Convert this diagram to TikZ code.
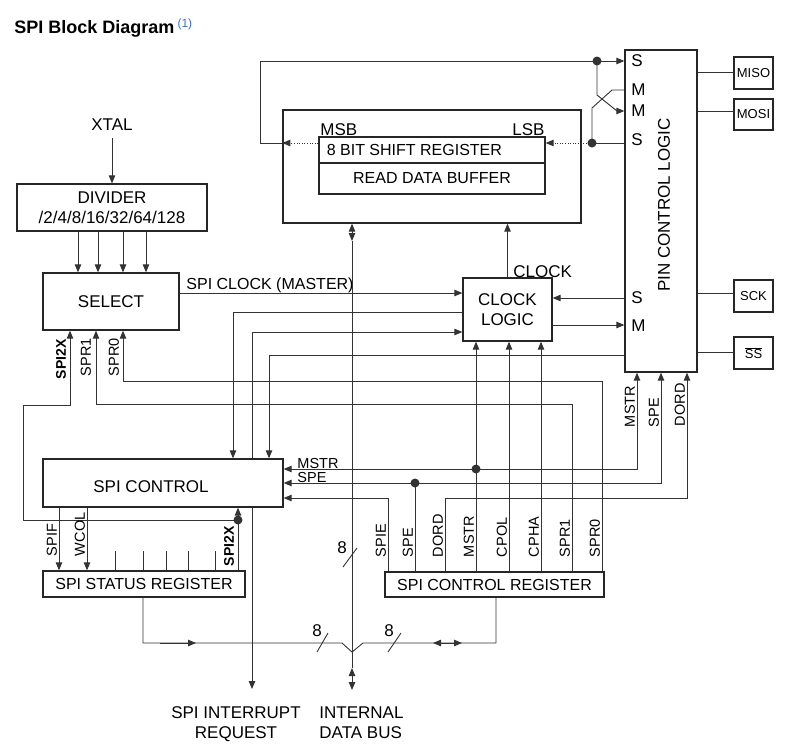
\documentclass[tikz,border=0pt]{standalone}
\usepackage{fontspec}
\setmainfont{Liberation Sans}
\usetikzlibrary{arrows.meta, positioning}
\definecolor{linkblue}{HTML}{3D6FD0}
\definecolor{wire}{HTML}{333333}

\tikzset{
  box/.style={draw=black!85, line width=1.3pt, inner sep=0pt},
  sig/.style={rotate=90, anchor=south west, inner sep=0.5pt, font=\fontsize{14.5}{15}\selectfont},
  bsig/.style={sig, font=\bfseries\fontsize{14}{15}\selectfont},
  pinlbl/.style={anchor=west, inner sep=0pt},
  dot/.style={circle, fill=wire, inner sep=0pt, minimum size=9pt},
  dots/.style={dash pattern=on 1pt off 1.6pt},
  dbl/.style={<->},
}

\begin{document}
\begin{tikzpicture}[x=1pt, y=-1pt, >={Triangle[length=8pt,width=6.5pt]}, line width=0.9pt, draw=wire,
    every node/.style={font=\fontsize{17}{20}\selectfont}]
    \useasboundingbox (0,0) rectangle (791,748);

    % title
    \node[anchor=base west, inner sep=0pt, font=\bfseries\fontsize{18}{20}\selectfont] (title) at (14,33)
        {SPI Block Diagram\hspace{3pt}\raisebox{6pt}{\mdseries\fontsize{12}{12}\selectfont\color{linkblue}(1)}};

    % blocks
    \node[box, minimum width=72, minimum height=322] (pin) at (661,211) {};
    \node[rotate=90] (pintxt) at (664,205) {PIN CONTROL LOGIC};
    \node[box, minimum width=39, minimum height=32, font=\fontsize{13}{14}\selectfont] (miso) at (753.5,73) {MISO};
    \node[box, minimum width=39, minimum height=31, font=\fontsize{13}{14}\selectfont] (mosi) at (753.5,114.5) {MOSI};
    \node[box, minimum width=39, minimum height=32, font=\fontsize{13}{14}\selectfont] (sck) at (753.5,296) {SCK};
    \node[box, minimum width=39, minimum height=32, font=\fontsize{13}{14}\selectfont] (ss) at (753.5,353) {$\overline{\mbox{SS}}$};

    \node[box, minimum width=298, minimum height=113] (dreg) at (432,166.5) {};
    \node[box, minimum width=226, minimum height=26] (shift) at (432,150) {};
    \node[anchor=west, inner sep=0pt, font=\fontsize{16}{18}\selectfont] (shifttxt) at ([xshift=8pt]shift.west) {8 BIT SHIFT REGISTER};
    \node[box, minimum width=226, minimum height=31, font=\fontsize{16}{18}\selectfont] (rdbuf) at (432,178.5) {READ DATA BUFFER};
    \node[anchor=base west, inner sep=0pt] (msb) at (320,135) {MSB};
    \node[anchor=base east, inner sep=0pt] (lsb) at (545,135) {LSB};

    \node[anchor=base, inner sep=0pt] (xtal) at (112,130) {XTAL};
    \node[box, minimum width=190, minimum height=47, align=center] (div) at (112,207.5) {DIVIDER\\/2/4/8/16/32/64/128};
    \node[box, minimum width=136, minimum height=57] (sel) at (111,301.5) {SELECT};
    \node[box, minimum width=89, minimum height=63, align=center] (clk) at (507.5,309.5) {CLOCK\\LOGIC};
    \node[anchor=base west, inner sep=0pt] (clktxt) at (513,277) {CLOCK};

    \node[box, minimum width=240, minimum height=48] (ctrl) at (163,483) {};
    \node (ctrltxt) at (151,486.5) {SPI CONTROL};
    \node[box, minimum width=202, minimum height=26, font=\fontsize{16}{18}\selectfont] (stat) at (144,584) {SPI STATUS REGISTER};
    \node[box, minimum width=219, minimum height=25, font=\fontsize{16}{18}\selectfont] (creg) at (494.5,584.5) {SPI CONTROL REGISTER};

    % pin letters
    \foreach \y/\t [count=\i] in {61/S, 90/M, 111/M, 140/S, 298/S, 326/M}
        \node[pinlbl] (p\i) at (631,\y) {\t};

    % pins out
    \draw (pin.east |- 0,72) -- (miso.west |- 0,72);
    \draw (pin.east |- 0,111) -- (mosi.west |- 0,111);
    \draw (pin.east |- 0,293) -- (sck.west |- 0,293);
    \draw (pin.east |- 0,352) -- (ss.west |- 0,352);

    % shift register paths
    \node[dot] (dtop) at (597,61) {};
    \node[dot] (dlsb) at (592,143) {};
    \draw[->, dots] (shift.west |- 0,143) -- (dreg.west |- 0,143);
    \draw[->] (dreg.west |- 0,143) -- (260,143) |- (pin.west |- 0,61);
    \draw[->, dots] (dlsb.center) -- (shift.east |- 0,143);
    \draw (pin.west |- 0,143) -- (dlsb.center);
    \draw (dlsb.center) -- (592,108) -- (612,90) -- (pin.west |- 0,90);
    \draw[->] (dtop.center) -- (597,95) -- (617,111) -- (pin.west |- 0,111);

    % clock
    \draw[->] ([yshift=-8pt]xtal.south) -- (div.north);
    \foreach \x in {78,98,123,146}
        \draw[->] (div.south -| \x,0) -- (sel.north -| \x,0);
    \draw[->] (sel.east |- 0,293) -- (clk.west |- 0,293);
    \node[anchor=base west, inner sep=0pt, font=\fontsize{16}{18}\selectfont] (sclk) at (186,289) {SPI CLOCK (MASTER)};
    \draw[->] (clk.north) -- (dreg.south -| clk.north);
    \draw[->] (pin.west |- 0,298) -- (clk.east |- 0,298);
    \draw[->] (clk.east |- 0,325) -- (pin.west |- 0,325);
    \draw[->] (clk.west |- 0,312) -| (ctrl.north -| 233,0);
    \draw[->] (ctrl.north -| 252,0) |- (clk.west |- 0,332);
    \draw[->] (pin.west |- 0,355) -| (ctrl.north -| 269,0);

    % select inputs
    \draw[->] (creg.north -| 602,0) -- (602,381) -| (sel.south -| 123,0);
    \draw[->] (creg.north -| 572,0) -- (572,404) -| (sel.south -| 96,0);
    \node[dot] (dx2) at (238,520) {};
    \draw[->] (stat.north -| 238,0) -- (ctrl.south -| 238,0);
    \draw[->] (dx2.center) -- (23,520) |- (70,405) -- (sel.south -| 70,0);
    \node[bsig] (x2a) at (67,380) {SPI2X};
    \node[sig] (spr1a) at (92,377) {SPR1};
    \node[sig] (spr0a) at (120,377) {SPR0};

    % control register
    \foreach \x/\t in {388/SPIE, 415/SPE, 445/DORD, 476/MSTR, 509/CPOL, 541/CPHA, 572/SPR1, 602/SPR0}
        \node[sig] (cr-\t) at (\x-1,558) {\t};
    \node[dot] (dmstr) at (476,469) {};
    \node[dot] (dspe) at (415,483) {};
    \draw[->] (creg.north -| 476,0) -- (clk.south -| 476,0);
    \draw[->] (creg.north -| 509,0) -- (clk.south -| 509,0);
    \draw[->] (creg.north -| 541,0) -- (clk.south -| 541,0);
    \draw[->] (dmstr.center) -| (pin.south -| 637,0);
    \draw[->] (dmstr.center) -- (ctrl.east |- dmstr.center);
    \draw (creg.north -| 415,0) -- (dspe.center);
    \draw[->] (dspe.center) -| (pin.south -| 661,0);
    \draw[->] (dspe.center) -- (ctrl.east |- dspe.center);
    \draw[->] (creg.north -| 445,0) |- (687,498) -- (pin.south -| 687,0);
    \draw[->] (creg.north -| 388,0) |- (ctrl.east |- 0,498);
    \node[anchor=base west, inner sep=0pt, font=\fontsize{14.5}{15}\selectfont] (mstrc) at (297,468) {MSTR};
    \node[anchor=base west, inner sep=0pt, font=\fontsize{14.5}{15}\selectfont] (spec) at (297,482) {SPE};
    \node[sig] (mstrp) at (636,428) {MSTR};
    \node[sig] (spep) at (660,428) {SPE};
    \node[sig] (dordp) at (686,427) {DORD};

    % status register
    \draw[->] (ctrl.south -| 59,0) -- (stat.north -| 59,0);
    \draw[->] (ctrl.south -| 87,0) -- (stat.north -| 87,0);
    \foreach \x in {115,143,166,188,215}
        \draw (\x,551) -- (stat.north -| \x,0);
    \node[sig] (spif) at (58,557) {SPIF};
    \node[sig] (wcol) at (86,557) {WCOL};
    \node[bsig] (x2b) at (235,567) {SPI2X};

    % interrupt and data bus
    \coordinate (irq) at (252,689);
    \draw[->] (ctrl.south -| irq) -- (irq);
    \coordinate (busv) at (352,652);
    \coordinate (busout) at (352,690);
    \draw[dbl] (dreg.south -| busv) -- (352,241);
    \draw (352,241) -- (busv);
    \draw (stat.south -| 143,0) |- (342,643) -- (busv) -- (363,643) -| (creg.south -| 496,0);
    \draw[->] (160,643) -- (196,643);
    \draw[dbl] (433,643) -- (462,643);
    \draw (busv) -- (352,668);
    \draw[dbl] (352,668) -- (busout);
    \node (n8a) at (342,548) {8};
    \node (n8b) at (317,631) {8};
    \node (n8c) at (389,631) {8};
    \draw (343,567) -- (357,548);
    \draw (317,652) -- (328,633);
    \draw (388,652) -- (401,633);

    \node[anchor=north, inner sep=0pt, align=center] (irqtxt) at (236,706) {SPI INTERRUPT\\REQUEST};
    \node[anchor=north west, inner sep=0pt, align=left] (bustxt) at (319,706) {INTERNAL\\DATA BUS};
\end{tikzpicture}
\end{document}
